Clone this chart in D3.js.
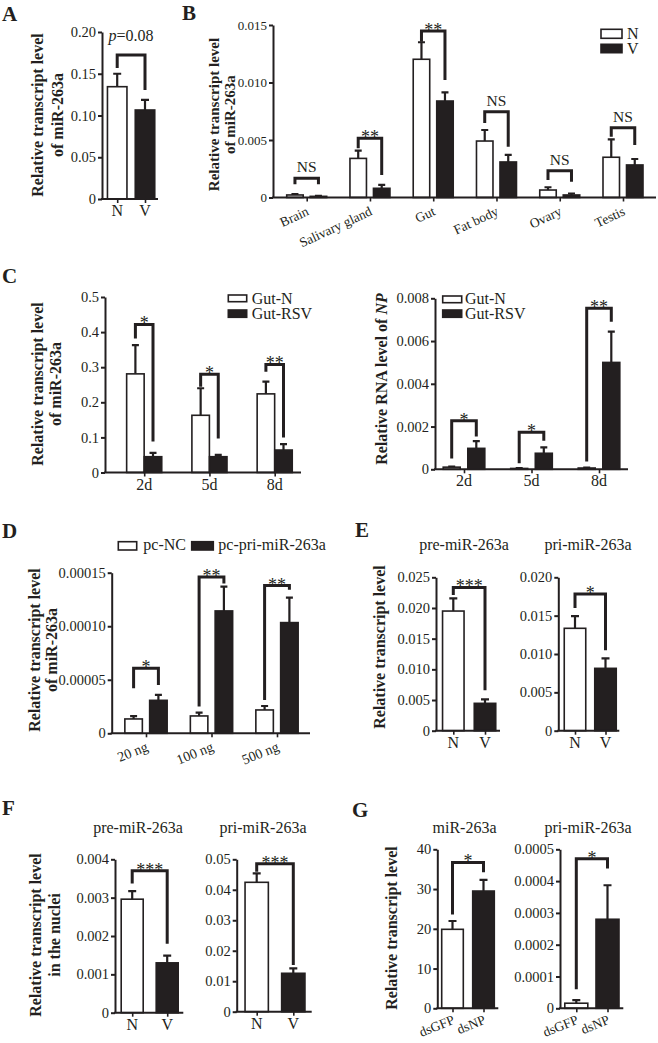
<!DOCTYPE html>
<html><head><meta charset="utf-8">
<script src="https://cdn.jsdelivr.net/npm/d3@7"></script>
<style>
body{margin:0;background:#fff}
svg{display:block}
text{font-family:"Liberation Serif","Times New Roman",serif;fill:#231f20}
</style>
</head><body>
<svg id="fig" width="658" height="1043"></svg>
<script>
// ---------------- DATA ----------------
// Panel A
const aCats = ["N", "V"];
const aMean = [0.1345, 0.1066];
const aSem = [0.0155, 0.012];
const aTicks = [0, 0.05, 0.10, 0.15, 0.20];
const aTickLabels = ["0", "0.05", "0.10", "0.15", "0.20"];
const aBracket = [[0.1725, 0.157, 0.1305]];
const aMarks = ["p=0.08"];

// Panel B
const bCats = ["Brain", "Salivary gland", "Gut", "Fat body", "Ovary", "Testis"];
const bMeanN = [0.00022, 0.0034, 0.01202, 0.00491, 0.00065, 0.0035];
const bSemN = [0.00008, 0.00067, 0.00148, 0.00096, 0.00024, 0.00156];
const bMeanV = [0.0001, 0.0008, 0.00839, 0.00309, 0.00022, 0.00283];
const bSemV = [0.00005, 0.00029, 0.00076, 0.00061, 0.00013, 0.00052];
const bTicks = [0, 0.005, 0.010, 0.015];
const bTickLabels = ["0", "0.005", "0.010", "0.015"];
const bBrackets = [[0.00167, 0.00115, 0.00115], [0.00515, 0.00428, 0.00196], [0.01448, 0.01355, 0.01022],
                   [0.00746, 0.00648, 0.00442], [0.00233, 0.00152, 0.00137], [0.00607, 0.00529, 0.00457]];
const bMarks = ["NS", "**", "**", "NS", "NS", "NS"];

// Panel C (left: miR-263a)
const cCats = ["2d", "5d", "8d"];
const c1MeanN = [0.281, 0.163, 0.224];
const c1SemN = [0.082, 0.077, 0.035];
const c1MeanV = [0.045, 0.045, 0.064];
const c1SemV = [0.011, 0.005, 0.017];
const c1Ticks = [0, 0.1, 0.2, 0.3, 0.4, 0.5];
const c1TickLabels = ["0", "0.1", "0.2", "0.3", "0.4", "0.5"];
const c1Brackets = [[0.422, 0.382, 0.088], [0.28, 0.244, 0.097], [0.308, 0.287, 0.10]];
const c1Marks = ["*", "*", "**"];

// Panel C (right: NP)
const c2MeanN = [0.0001, 0.00004, 0.00006];
const c2SemN = [0.00003, 0.00002, 0.00002];
const c2MeanV = [0.00098, 0.00075, 0.0050];
const c2SemV = [0.00034, 0.00028, 0.00144];
const c2Ticks = [0, 0.002, 0.004, 0.006, 0.008];
const c2TickLabels = ["0", "0.002", "0.004", "0.006", "0.008"];
const c2Brackets = [[0.00227, 0.0005, 0.00153], [0.00173, 0.00028, 0.00134], [0.00753, 0.00036, 0.0069]];
const c2Marks = ["*", "*", "**"];

// Panel D
const dCats = ["20 ng", "100 ng", "500 ng"];
const dMeanN = [1.34e-5, 1.62e-5, 2.18e-5];
const dSemN = [0.26e-5, 0.31e-5, 0.37e-5];
const dMeanV = [3.08e-5, 11.43e-5, 10.34e-5];
const dSemV = [0.50e-5, 2.27e-5, 2.33e-5];
const dTicks = [0, 0.00005, 0.00010, 0.00015];
const dTickLabels = ["0", "0.00005", "0.00010", "0.00015"];
const dBrackets = [[6.07e-5, 4.2e-5, 4.5e-5], [1.46e-4, 2.5e-5, 1.40e-4], [1.38e-4, 3.1e-5, 1.34e-4]];
const dMarks = ["*", "**", "**"];

// Panel E
const eCats = ["N", "V"];
const e1Mean = [0.0195, 0.00446];
const e1Sem = [0.00207, 0.00064];
const e1Ticks = [0, 0.005, 0.010, 0.015, 0.020, 0.025];
const e1TickLabels = ["0", "0.005", "0.010", "0.015", "0.020", "0.025"];
const e1Bracket = [[0.02335, 0.0221, 0.0066]];
const e2Mean = [0.01335, 0.00813];
const e2Sem = [0.0016, 0.00131];
const e2Ticks = [0, 0.005, 0.010, 0.015, 0.020];
const e2TickLabels = ["0", "0.005", "0.010", "0.015", "0.020"];
const e2Bracket = [[0.01782, 0.016, 0.0105]];

// Panel F
const fCats = ["N", "V"];
const f1Mean = [0.00296, 0.0013];
const f1Sem = [0.00021, 0.00019];
const f1Ticks = [0, 0.001, 0.002, 0.003, 0.004];
const f1TickLabels = ["0", "0.001", "0.002", "0.003", "0.004"];
const f1Bracket = [[0.0037, 0.00337, 0.0018]];
const f2Mean = [0.04245, 0.0126];
const f2Sem = [0.00295, 0.00164];
const f2Ticks = [0, 0.01, 0.02, 0.03, 0.04, 0.05];
const f2TickLabels = ["0", "0.01", "0.02", "0.03", "0.04", "0.05"];
const f2Bracket = [[0.0485, 0.0459, 0.0153]];

// Panel G
const gCats = ["dsGFP", "dsNP"];
const g1Mean = [19.87, 29.5];
const g1Sem = [2.09, 2.8];
const g1Ticks = [0, 10, 20, 30, 40];
const g1TickLabels = ["0", "10", "20", "30", "40"];
const g1Bracket = [[36.7, 23.6, 34.2]];
const g2Mean = [1.6e-5, 2.8e-4];
const g2Sem = [1.0e-5, 1.07e-4];
const g2Ticks = [0, 0.0001, 0.0002, 0.0003, 0.0004, 0.0005];
const g2TickLabels = ["0", "0.0001", "0.0002", "0.0003", "0.0004", "0.0005"];
const g2Bracket = [[4.7e-4, 6e-5, 4.4e-4]];

// ---------------- DRAWING ----------------
const INK = "#231f20";
const svg = d3.select("#fig");

function drawPanel(o) {
  const g = svg.append("g");
  const y = d3.scaleLinear().domain([0, o.max]).range([o.yB, o.yT]);
  const x = d3.scalePoint().domain(o.cats).range(o.span);
  const bars = [];
  let legs = [];
  if (o.grouped) {
    const sub = d3.scalePoint().domain(["N", "V"]).range([-o.off, o.off]);
    o.cats.forEach((c, i) => {
      bars.push({cx: x(c) + sub("N"), v: o.meanN[i], e: o.semN[i], fill: "#fff"});
      bars.push({cx: x(c) + sub("V"), v: o.meanV[i], e: o.semV[i], fill: INK});
      legs.push([x(c) + sub("N"), x(c) + sub("V")]);
    });
  } else {
    o.cats.forEach((c, i) => bars.push({cx: x(c), v: o.mean[i], e: o.sem[i], fill: i === 0 ? "#fff" : INK}));
    legs.push([x(o.cats[0]), x(o.cats[1])]);
  }
  // error bars (upper only)
  g.selectAll("path.err").data(bars).join("path").attr("class", "err")
    .attr("d", d => `M${d.cx},${y(d.v)}V${y(d.v + d.e)}M${d.cx - o.cap / 2},${y(d.v + d.e)}H${d.cx + o.cap / 2}`)
    .attr("stroke", INK).attr("stroke-width", 2.2).attr("fill", "none");
  // bars
  g.selectAll("rect.bar").data(bars).join("rect").attr("class", "bar")
    .attr("x", d => d.cx - o.bw / 2).attr("width", o.bw)
    .attr("y", d => y(d.v)).attr("height", d => Math.max(0.5, y(0) - y(d.v)))
    .attr("fill", d => d.fill).attr("stroke", INK).attr("stroke-width", 1.6);

  // y axis
  const ya = g.append("g").attr("transform", `translate(${o.x0},0)`)
    .call(d3.axisLeft(y).tickValues(o.ticks).tickFormat((d, i) => o.tickLabels[i])
      .tickSize(4).tickSizeOuter(0).tickPadding(2));
  ya.select(".domain").attr("stroke", INK).attr("stroke-width", 2);
  ya.selectAll(".tick line").attr("stroke", INK).attr("stroke-width", 2);
  ya.selectAll(".tick text").attr("font-family", "Liberation Serif, serif")
    .attr("font-size", o.tickFont || 14.5).attr("fill", INK);

  // x axis line
  g.append("line").attr("x1", o.x0 - 1).attr("x2", o.x1).attr("y1", o.yB).attr("y2", o.yB)
    .attr("stroke", INK).attr("stroke-width", 2);
  const xa = g.append("g").attr("transform", `translate(0,${o.yB})`)
    .call(d3.axisBottom(x).tickSize(4).tickSizeOuter(0).tickFormat(""));
  xa.select(".domain").remove();
  xa.selectAll(".tick line").attr("stroke", INK).attr("stroke-width", 1.6);

  // x labels
  const xl = g.selectAll("text.xl").data(o.cats).join("text").attr("class", "xl").text(d => d);
  if (o.rotate) {
    xl.attr("text-anchor", "end").attr("font-size", o.xFont || 14)
      .attr("transform", d => `translate(${x(d) + 3},${o.yB + (o.xDrop || 17)}) rotate(${o.angle || -25})`);
  } else {
    xl.attr("text-anchor", "middle").attr("font-size", 16)
      .attr("x", d => x(d)).attr("y", o.yB + 17);
  }

  // brackets
  o.brackets.forEach((b, i) => {
    const [lx, rx] = legs[i];
    g.append("path")
      .attr("d", `M${lx},${y(b[1])}V${y(b[0])}H${rx}V${y(b[2])}`)
      .attr("fill", "none").attr("stroke", INK).attr("stroke-width", 3).attr("stroke-linejoin", "miter");
    const m = o.marks[i];
    const t = g.append("text").attr("text-anchor", "middle").attr("x", (lx + rx) / 2);
    if (m.startsWith("p=")) {
      t.attr("y", y(b[0]) - 14).attr("font-size", 16);
      t.append("tspan").attr("font-style", "italic").text("p");
      t.append("tspan").text(m.slice(1));
    } else if (m === "NS") {
      t.attr("y", y(b[0]) - 6).attr("font-size", 15.5).text(m);
    } else {
      t.attr("y", y(b[0]) + 5).attr("font-size", 18).text(m);
    }
  });
  return g;
}

function yLabel(lines, xs, cy, italicTail, size) {
  lines.forEach((ln, i) => {
    const t = svg.append("text").attr("text-anchor", "middle").attr("font-weight", "bold").attr("font-size", size || 16)
      .attr("transform", `translate(${xs[i]},${cy}) rotate(-90)`);
    if (italicTail && i === lines.length - 1) {
      t.append("tspan").text(ln);
      t.append("tspan").attr("font-style", "italic").text(italicTail);
    } else t.text(ln);
  });
}

function letter(s, x, y) {
  svg.append("text").attr("x", x).attr("y", y).attr("font-size", 21).attr("font-weight", "bold").text(s);
}
function title(s, x, y) {
  svg.append("text").attr("x", x).attr("y", y).attr("text-anchor", "middle").attr("font-size", 16).text(s);
}
function legendItem(x, y, w, h, fill, label, tx, ty) {
  svg.append("rect").attr("x", x).attr("y", y).attr("width", w).attr("height", h)
    .attr("fill", fill).attr("stroke", INK).attr("stroke-width", 1.6);
  svg.append("text").attr("x", tx).attr("y", ty).attr("font-size", 16).text(label);
}

// ---- A ----
letter("A", 2, 21);
drawPanel({x0: 102, x1: 158, yB: 199, yT: 32, max: 0.20, ticks: aTicks, tickLabels: aTickLabels,
  cats: aCats, span: [117.2, 145], bw: 19.5, cap: 8, mean: aMean, sem: aSem,
  brackets: aBracket, marks: aMarks});
yLabel(["Relative transcript level", "of miR-263a"], [43, 63], 115);

// ---- B ----
letter("B", 182, 20);
drawPanel({x0: 273, x1: 656, yB: 197.5, yT: 25, max: 0.015, ticks: bTicks, tickLabels: bTickLabels, tickFont: 13,
  cats: bCats, span: [306.7, 623], grouped: true, off: 11.75, bw: 16.5, cap: 7,
  meanN: bMeanN, semN: bSemN, meanV: bMeanV, semV: bSemV, brackets: bBrackets, marks: bMarks,
  rotate: true, xFont: 13.5, angle: -25, xDrop: 17});
yLabel(["Relative transcript level", "of miR-263a"], [219, 235], 114.5, null, 15);
legendItem(601, 29.3, 21, 9, "#fff", "N", 627, 38.5);
legendItem(601, 44.3, 21, 8.4, INK, "V", 627, 54);

// ---- C left ----
letter("C", 2, 283);
drawPanel({x0: 105, x1: 301, yB: 472.5, yT: 297, max: 0.5, ticks: c1Ticks, tickLabels: c1TickLabels,
  cats: cCats, span: [144.2, 274.7], grouped: true, off: 8.8, bw: 17.5, cap: 7,
  meanN: c1MeanN, semN: c1SemN, meanV: c1MeanV, semV: c1SemV, brackets: c1Brackets, marks: c1Marks});
yLabel(["Relative transcript level", "of miR-263a"], [43, 61], 384);
legendItem(228.3, 295, 18.4, 6.7, "#fff", "Gut-N", 251.7, 303.5);
legendItem(228.3, 310, 18.4, 7.3, INK, "Gut-RSV", 251.7, 319);

// ---- C right ----
drawPanel({x0: 435, x1: 628, yB: 469.3, yT: 298.3, max: 0.008, ticks: c2Ticks, tickLabels: c2TickLabels,
  cats: cCats, span: [464, 599], grouped: true, off: 12.3, bw: 17, cap: 7,
  meanN: c2MeanN, semN: c2SemN, meanV: c2MeanV, semV: c2SemV, brackets: c2Brackets, marks: c2Marks});
yLabel(["Relative RNA level of "], [387], 379, "NP");
legendItem(442.7, 296, 19, 6.7, "#fff", "Gut-N", 465, 303.5);
legendItem(442.7, 310, 19, 7.3, INK, "Gut-RSV", 465, 319);

// ---- D ----
letter("D", 2, 538);
drawPanel({x0: 111.7, x1: 310, yB: 733.3, yT: 572.7, max: 0.00015, ticks: dTicks, tickLabels: dTickLabels,
  cats: dCats, span: [146, 277], grouped: true, off: 12.4, bw: 17.5, cap: 7,
  meanN: dMeanN, semN: dSemN, meanV: dMeanV, semV: dSemV, brackets: dBrackets, marks: dMarks,
  rotate: true, xFont: 14, angle: -22, xDrop: 17});
yLabel(["Relative transcript level", "of miR-263a"], [40, 57], 650);
legendItem(118.3, 541.7, 18.4, 8.3, "#fff", "pc-NC", 143.3, 550);
legendItem(191.7, 541.7, 21.6, 8.3, INK, "pc-pri-miR-263a", 218.3, 550);

// ---- E ----
letter("E", 355, 537);
title("pre-miR-263a", 464, 550);
title("pri-miR-263a", 588, 550);
drawPanel({x0: 436, x1: 500, yB: 730.7, yT: 577.3, max: 0.025, ticks: e1Ticks, tickLabels: e1TickLabels,
  cats: eCats, span: [453.3, 485], bw: 21.5, cap: 8, mean: e1Mean, sem: e1Sem, brackets: e1Bracket, marks: ["***"]});
drawPanel({x0: 558.3, x1: 619.3, yB: 730.7, yT: 577.3, max: 0.020, ticks: e2Ticks, tickLabels: e2TickLabels,
  cats: eCats, span: [575, 605.5], bw: 21.5, cap: 8, mean: e2Mean, sem: e2Sem, brackets: e2Bracket, marks: ["*"]});
yLabel(["Relative transcript level"], [385], 647);

// ---- F ----
letter("F", 2, 815);
title("pre-miR-263a", 138, 833);
title("pri-miR-263a", 263, 833);
drawPanel({x0: 115, x1: 183.3, yB: 1012.7, yT: 859.3, max: 0.004, ticks: f1Ticks, tickLabels: f1TickLabels,
  cats: fCats, span: [132.2, 167.2], bw: 22, cap: 8, mean: f1Mean, sem: f1Sem, brackets: f1Bracket, marks: ["***"]});
drawPanel({x0: 236.7, x1: 311.7, yB: 1011.7, yT: 859.3, max: 0.05, ticks: f2Ticks, tickLabels: f2TickLabels,
  cats: fCats, span: [256.7, 293.3], bw: 23.3, cap: 8, mean: f2Mean, sem: f2Sem, brackets: f2Bracket, marks: ["***"]});
yLabel(["Relative transcript level", "in the nuclei"], [41, 60], 935);

// ---- G ----
letter("G", 352, 817);
title("miR-263a", 464.5, 833);
title("pri-miR-263a", 588, 833);
drawPanel({x0: 437.3, x1: 498.3, yB: 1008.3, yT: 849.3, max: 40, ticks: g1Ticks, tickLabels: g1TickLabels,
  cats: gCats, span: [452.5, 483.5], bw: 21.6, cap: 8, mean: g1Mean, sem: g1Sem, brackets: g1Bracket, marks: ["*"],
  rotate: true, xFont: 13.5, angle: -22, xDrop: 15});
drawPanel({x0: 560, x1: 623.3, yB: 1008.3, yT: 849.3, max: 0.0005, ticks: g2Ticks, tickLabels: g2TickLabels,
  cats: gCats, span: [576.3, 607.5], bw: 23, cap: 8, mean: g2Mean, sem: g2Sem, brackets: g2Bracket, marks: ["*"],
  rotate: true, xFont: 13.5, angle: -22, xDrop: 15});
yLabel(["Relative transcript level"], [397], 928);
</script>
</body></html>
